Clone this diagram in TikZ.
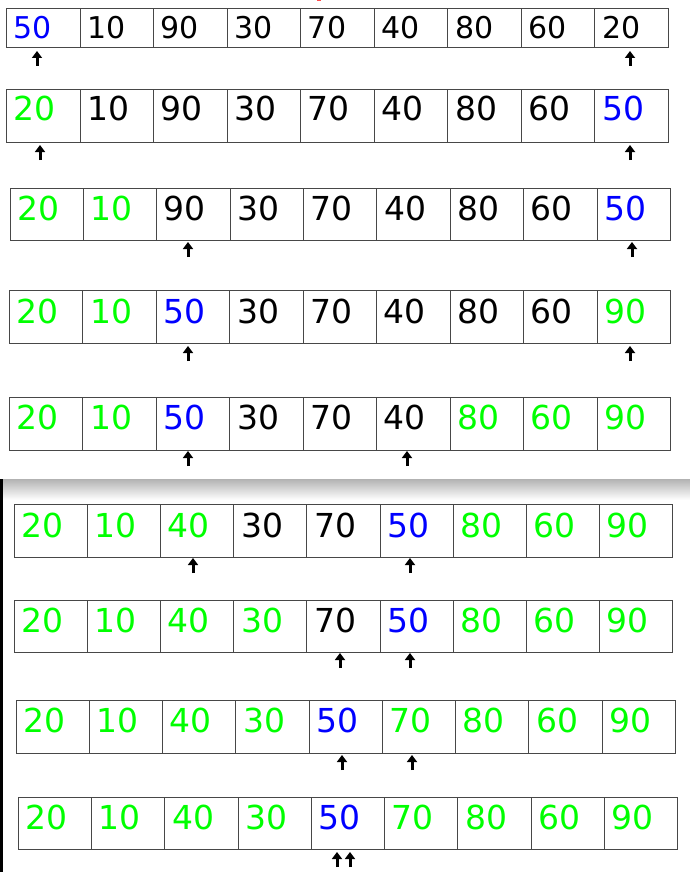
\documentclass[tikz,border=0pt]{standalone}
\usepackage{fontspec}
\newfontfamily\numfont{DejaVu Sans}
\usetikzlibrary{arrows.meta}
\definecolor{qsp}{RGB}{0,0,255}
\definecolor{qsd}{RGB}{0,255,0}
\definecolor{qst}{RGB}{0,0,0}
\tikzset{
  cell/.style={shape=rectangle,draw=black!72,line width=0.9pt,anchor=north west,inner sep=0pt},
  num/.style={anchor=base west,inner sep=0pt},
  ptr/.style={line width=3pt,-{Triangle[width=10pt,length=7pt]}},
}
\begin{document}
\begin{tikzpicture}[x=1pt,y=-1pt]
    \useasboundingbox (0,0) rectangle (690,872);
    \fill[white] (0,0) rectangle (690,872);
    \draw[red!70,line width=0.8pt] (317,0.4) to (321,0.4);
    % lower screenshot edge
    \shade[top color=black!30,bottom color=white] (0,479) rectangle (690,500);
    \fill[black] (0,479) rectangle (2.5,872);
    \foreach \r/\lx/\ty/\rx/\by/\fs/\bl/\vals in {
        1/6/8/668/47/30/31/{p/50,t/10,t/90,t/30,t/70,t/40,t/80,t/60,t/20},
        2/6/89/668/142/33/32/{d/20,t/10,t/90,t/30,t/70,t/40,t/80,t/60,p/50},
        3/9.5/188/670/240/33/32/{d/20,d/10,t/90,t/30,t/70,t/40,t/80,t/60,p/50},
        4/9/290/670/343/33/33/{d/20,d/10,p/50,t/30,t/70,t/40,t/80,t/60,d/90},
        5/9/397/670/450/33/32/{d/20,d/10,p/50,t/30,t/70,t/40,d/80,d/60,d/90},
        6/14/504/672/557/33/33/{d/20,d/10,d/40,t/30,t/70,p/50,d/80,d/60,d/90},
        7/14/600/672/652/33/32/{d/20,d/10,d/40,d/30,t/70,p/50,d/80,d/60,d/90},
        8/15.5/700/675/753/33/32/{d/20,d/10,d/40,d/30,p/50,d/70,d/80,d/60,d/90},
        9/18/797/677/849/33/32/{d/20,d/10,d/40,d/30,p/50,d/70,d/80,d/60,d/90}} {
      \pgfmathsetmacro\w{(\rx-\lx)/9}
      \pgfmathsetmacro\h{\by-\ty}
      \foreach \k/\v [count=\c] in \vals {
        \node[cell,minimum width=\w pt,minimum height=\h pt] (r\r-\c) at ({\lx+(\c-1)*\w},\ty) {};
        \node[num,text=qs\k,font={\numfont\fontsize{\fs}{\fs}\selectfont}] (v\r-\c) at ([shift={(7.5,\bl)}]r\r-\c.north west) {\v};
      }
    }
    \foreach \r/\x/\y in {1/37/66, 1/630/66, 2/40/160, 2/630/160, 3/188/257, 3/632/257,
        4/188/361, 4/630/361, 5/188/466, 5/407/466, 6/193/573, 6/410/573,
        7/340/668, 7/410/668, 8/342/770, 8/412/770, 9/337/867, 9/350/867} {
      \coordinate (a\r-\x) at (\x,\y);
      \draw[ptr] (a\r-\x) to ++(0,-15);
    }
\end{tikzpicture}
\end{document}
